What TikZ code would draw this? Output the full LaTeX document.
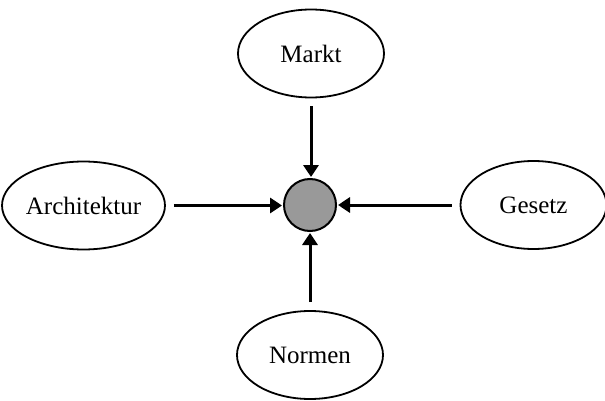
\documentclass[tikz,border=0pt]{standalone}
\usepackage{fontspec}
\setmainfont{Liberation Serif}
\usetikzlibrary{shapes.geometric,arrows.meta}

\begin{document}
\begin{tikzpicture}[x=0.5pt,y=-0.5pt,
	>={Triangle[width=7.5pt,length=6pt]},
	force/.style={ellipse, draw, line width=0.9pt, inner sep=0pt,
	  minimum width=73pt, minimum height=44pt,
	  font=\fontsize{12.5}{15}\selectfont},
	pull/.style={->, line width=1.5pt, shorten <=4pt, shorten >=0.5pt}]
	\useasboundingbox (0,0) rectangle (605,401);
	\node[circle, draw, line width=1pt, fill=black!40, minimum size=26pt, inner sep=0pt] (dot) at (310,205) {};

	\node[force] (markt) at (311,53.5) {Markt};
	\node[force] (arch) at (83.5,205.5) {Architektur};
	\node[force] (gesetz) at (533.5,205) {Gesetz};
	\node[force] (normen) at (310,355) {Normen};

	  \draw [pull] (markt) -- (markt |- dot.north);
	  \draw [pull] (arch) -- (dot.west |- arch);
	  \draw [pull] (gesetz) -- (dot.east |- gesetz);
	  \draw [pull] (normen) -- (normen |- dot.south);
    \end{tikzpicture}
\end{document}
